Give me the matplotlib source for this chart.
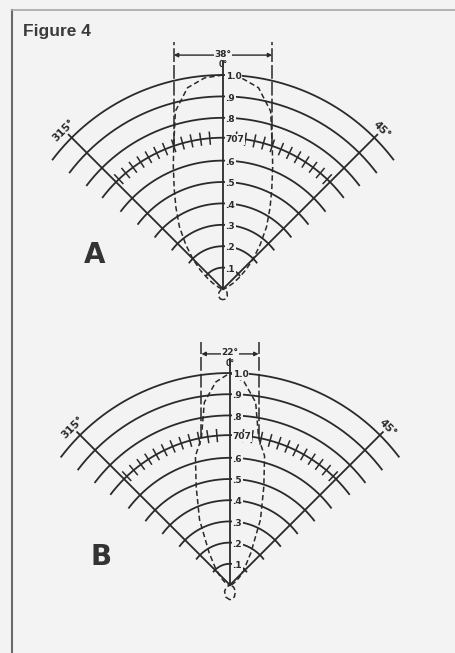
import numpy as np
import matplotlib
matplotlib.use("Agg")
import matplotlib.pyplot as plt
from matplotlib.lines import Line2D

# beam response, one side of the axis (degrees off axis, relative pressure)
lobe_a_deg = [0, 5, 10, 15, 19, 22, 26, 30, 35, 40, 45, 50, 55, 60, 70, 80, 90,
              110, 130, 150, 165, 180]
lobe_a_resp = [1.0, 0.99, 0.955, 0.86, 0.707, 0.62, 0.52, 0.44, 0.355, 0.27, 0.20,
               0.14, 0.09, 0.055, 0.02, 0.005, 0.0, 0.01, 0.025, 0.04, 0.048, 0.05]

lobe_b_deg = [0, 4, 8, 11, 15, 19, 25, 33, 40, 50, 60, 75, 90,
              120, 140, 160, 180]
lobe_b_resp = [1.0, 0.96, 0.87, 0.707, 0.63, 0.49, 0.34, 0.18, 0.11, 0.06, 0.03,
               0.01, 0.0, 0.02, 0.04, 0.06, 0.07]

beamwidth_a = 38
beamwidth_b = 22

ring_values = [1.0, 0.9, 0.8, 0.707, 0.6, 0.5, 0.4, 0.3, 0.2, 0.1]
ring_labels = ['1.0', '.9', '.8', '707', '.6', '.5', '.4', '.3', '.2', '.1']
tick_deg = [5, 8.5, 12, 15.5, 19, 22.5, 26, 29.5, 33, 36.5, 40, 43.5]
edge_deg = [-45, 45]
edge_labels = ['315°', '45°']

bg = '#f3f3f3'
ink = '#2a2a2a'

W, H = 456, 653
fig = plt.figure(figsize=(W / 100, H / 100), dpi=100, facecolor=bg)


def panel(cx, cy, scale, top, bottom):
    # axes in response units with the transducer at (0, 0)
    ax = fig.add_axes([0, 1 - bottom / H, 1, (bottom - top) / H])
    ax.set_xlim(-cx / scale, (W - cx) / scale)
    ax.set_ylim((cy - bottom) / scale, (cy - top) / scale)
    ax.axis('off')
    return ax


def polar_xy(deg, r):
    t = np.radians(deg)
    return np.asarray(r) * np.sin(t), np.asarray(r) * np.cos(t)


def draw_pattern(ax, deg, resp, beamwidth, letter, letter_xy, dim_y, top_y):
    # range rings
    arc = np.linspace(-53, 53, 300)
    for r in ring_values:
        x, y = polar_xy(arc, r)
        ax.plot(x, y, color=ink, lw=1.3, solid_capstyle='butt')

    # edge radials and their labels
    for d, lab in zip(edge_deg, edge_labels):
        x, y = polar_xy(np.array([0, d]), np.array([0, 1.06]))
        ax.plot(x, y, color=ink, lw=1.3)
        lx, ly = polar_xy(d, 1.05)
        ax.text(lx, ly, lab, rotation=-d, ha='center', va='center', fontsize=7.5,
                fontweight='bold', color=ink,
                bbox=dict(boxstyle='square,pad=0.05', fc=bg, ec='none'))

    # half power ring ticks
    for t in tick_deg:
        for s in (-1, 1):
            x, y = polar_xy(np.array([s * t, s * t]), np.array([0.68, 0.735]))
            ax.plot(x, y, color=ink, lw=1.1)

    # axis line
    ax.plot([0, 0], [0, 1.065], color=ink, lw=1.3)

    # measured lobe, mirrored about the axis
    d = np.array(deg, dtype=float)
    r = np.array(resp, dtype=float)
    full_d = np.concatenate([-d[::-1], d[1:]])
    full_r = np.concatenate([r[::-1], r[1:]])
    x, y = polar_xy(full_d, full_r)
    ax.plot(x, y, color=ink, lw=1.1, ls=(0, (3.5, 2)))

    # beamwidth dimension
    half = beamwidth / 2
    hx, hy = polar_xy(half, 0.707)
    for s in (-1, 1):
        ax.plot([s * hx, s * hx], [hy, top_y], color=ink, lw=1.1, ls=(0, (9, 2)))
    ax.annotate('', xy=(-hx, dim_y), xytext=(hx, dim_y),
                arrowprops=dict(arrowstyle='<|-|>', color=ink, lw=1.0,
                                mutation_scale=6, shrinkA=0, shrinkB=0))
    ax.text(0, dim_y + 0.005, f'{beamwidth}°', ha='center', va='center',
            fontsize=6.5, fontweight='bold', color=ink,
            bbox=dict(boxstyle='square,pad=0.05', fc=bg, ec='none'))
    ax.text(0, dim_y - 0.045, '0°', ha='center', va='center', fontsize=5.5,
            fontweight='bold', color=ink)

    # ring values along the axis
    for rv, lab in zip(ring_values, ring_labels):
        ax.text(0.012, rv - 0.008, lab, ha='left', va='center', fontsize=6.5,
                fontweight='bold', color=ink,
                bbox=dict(boxstyle='square,pad=0.08', fc=bg, ec='none'))

    ax.text(letter_xy[0], letter_xy[1], letter, ha='center', va='center',
            fontsize=20, fontweight='bold', color='#333333',
            family=['Liberation Sans Narrow', 'DejaVu Sans'])


ax_a = panel(223, 289, 214, 20, 330)
draw_pattern(ax_a, lobe_a_deg, lobe_a_resp, beamwidth_a, 'A', (-0.6, 0.16),
             1.093, 1.154)

ax_b = panel(230, 585, 212, 330, 653)
draw_pattern(ax_b, lobe_b_deg, lobe_b_resp, beamwidth_b, 'B', (-0.61, 0.13),
             1.09, 1.145)

fig.text(23 / W, 1 - 24 / H, 'Figure 4', ha='left', va='top', fontsize=12.5,
         fontweight='bold', color='#3a3a3a', family=['Liberation Sans', 'DejaVu Sans'])

# page frame
fig.add_artist(Line2D([12.5 / W, 12.5 / W], [0, 1 - 10 / H], color='#6a6a6a', lw=1.5,
                      transform=fig.transFigure))
fig.add_artist(Line2D([12.5 / W, 1], [1 - 10 / H, 1 - 10 / H], color='#a8a8a8', lw=1.2,
                      transform=fig.transFigure))

fig.savefig('out.png', dpi=100, facecolor=bg)
